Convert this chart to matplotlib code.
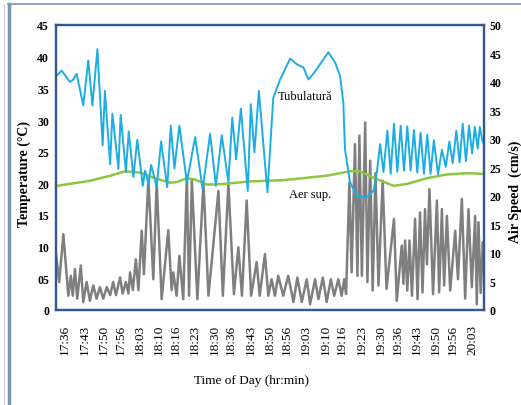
import matplotlib
matplotlib.use("Agg")
import matplotlib.pyplot as plt
from matplotlib.lines import Line2D

plt.rcParams['font.family'] = ['Liberation Serif', 'DejaVu Serif']

# etichete axa timpului (minute de la 17:36)
time_labels = ["17:36", "17:43", "17:50", "17:56", "18:03", "18:10", "18:16", "18:23",
               "18:30", "18:36", "18:43", "18:50", "18:56", "19:03", "19:10", "19:16",
               "19:23", "19:30", "19:36", "19:43", "19:50", "19:56", "20:03"]
time_ticks = [0, 7, 14, 20, 27, 34, 40, 47, 54, 60, 67, 74, 80, 87, 94, 100,
              107, 114, 120, 127, 134, 140, 147]

# Tubulatura - temperatura (C)
tub_t = [-3.0, -1.2, 1.8, 3.0, 4.2, 6.6, 8.4, 9.9, 11.7, 13.6, 14.4, 16.3, 17.1, 19.3,
         20.1, 22.0, 23.0, 24.7, 26.1, 28.1, 28.9, 30.1, 31.1, 33.1, 34.7, 36.9, 38.2,
         39.5, 41.3, 44.0, 47.0, 49.7, 52.4, 54.5, 56.6, 59.0, 60.4, 61.8, 63.5, 66.0,
         67.1, 68.4, 70.0, 73.1, 75.2, 77.7, 81.3, 83.7, 86.1, 87.9, 89.7, 92.1, 95.1,
         97.5, 99.3, 100.5, 101.1, 102.9, 105.4, 109.0, 111.4, 112.6, 113.8, 115.0,
         116.4, 117.6, 118.8, 120.0, 121.2, 122.4, 123.6, 124.8, 126.0, 127.2, 128.4,
         129.6, 130.8, 132.0, 133.2, 134.7, 136.1, 137.5, 138.8, 140.0, 141.3, 142.5,
         143.6, 144.8, 145.9, 147.0, 148.0, 149.0, 149.8, 150.8, 151.3]
tub_T = [37.0, 37.8, 36.0, 36.4, 37.3, 32.3, 39.4, 32.3, 41.2, 26.0, 34.6, 23.0, 31.0, 22.3,
         30.8, 21.8, 28.2, 21.0, 26.9, 19.6, 22.0, 19.9, 22.9, 19.4, 26.6, 19.4, 29.1,
         22.3, 29.1, 20.2, 27.3, 19.1, 27.8, 19.6, 27.6, 20.2, 30.4, 23.8, 31.8, 18.8,
         32.5, 24.9, 34.6, 18.6, 33.5, 36.4, 39.7, 38.8, 38.3, 36.4, 37.3, 38.8, 40.7,
         39.1, 37.0, 32.8, 25.4, 20.2, 18.0, 17.8, 18.8, 21.7, 26.2, 21.8,
         28.3, 21.5, 29.4, 21.8, 29.1, 22.0, 29.0, 22.0, 28.4, 21.7, 28.0,
         21.5, 27.7, 21.5, 26.8, 21.4, 25.3, 22.6, 26.6, 23.2, 28.3, 23.3,
         29.4, 23.5, 29.1, 24.7, 28.9, 25.5, 28.9, 26.5, 27.0]

# Aer suprafata - temperatura (C)
aer_t = [-3.0, 9.0, 16.3, 21.7, 27.1, 31.9, 37.9, 40.3, 44.0, 47.0, 51.2, 57.2, 66.8,
         78.8, 94.5, 102.9, 106.5, 111.4, 118.6, 123.4, 130.6, 137.9, 145.1, 151.3]
aer_T = [19.6, 20.4, 21.2, 21.9, 21.7, 20.9, 20.1, 20.2, 20.8, 20.6, 19.8, 19.9, 20.3,
         20.5, 21.2, 21.9, 21.9, 20.9, 19.6, 19.9, 20.8, 21.4, 21.6, 21.5]

# viteza aerului (cm/s)
vit_t = [-3.3, -2.1, -0.6, 1.2, 2.1, 2.8, 3.6, 4.4, 5.7, 6.6, 7.8, 9.0, 10.2, 11.4, 12.6,
         13.8, 15.1, 16.3, 17.4, 18.4, 19.9, 20.8, 22.0, 22.9, 23.5, 24.5, 25.6, 26.5,
         27.7, 28.5, 30.1, 31.9, 33.1, 34.9, 37.3, 38.5, 39.1, 40.3, 41.3, 42.7, 44.0,
         44.8, 45.8, 47.8, 50.0, 51.8, 55.4, 57.0, 59.0, 61.0, 62.6, 63.9, 65.6, 67.2,
         69.2, 70.3, 72.2, 73.4, 74.6, 75.8, 77.0, 78.8, 80.6, 82.5, 83.9, 85.5, 87.3,
         88.5, 90.3, 91.5, 93.1, 94.5, 96.0, 97.2, 98.7, 99.9, 100.8, 101.5,
         102.7, 103.5, 104.7, 105.6, 106.3, 107.2, 108.4, 109.2, 110.2, 111.1, 112.1,
         113.2, 114.7, 116.1, 118.8, 119.8, 121.6, 122.2, 122.8, 123.6, 124.4, 125.3,
         126.4, 127.3, 128.2, 129.1, 130.0, 130.7, 131.6, 132.9, 134.3, 135.1, 136.1,
         136.9, 137.9, 139.1, 140.9, 141.9, 143.3, 144.5, 145.7, 146.9, 148.1, 148.7,
         149.3, 150.1, 150.9, 151.3]
vit_A = [10.1, 4.9, 13.3, 2.5, 6.0, 2.5, 7.2, 2.0, 7.8, 1.4, 4.9, 1.6, 4.3, 2.0, 4.0,
         2.0, 4.0, 2.6, 4.9, 2.6, 5.7, 2.9, 4.9, 2.9, 6.6, 3.5, 8.9, 3.5,
         13.9, 6.3, 23.0, 5.4, 22.4, 1.9, 14.0, 3.5, 6.6, 2.5, 9.5, 1.9, 23.6,
         2.5, 22.7, 1.9, 22.4, 2.5, 20.9, 2.5, 22.1, 2.8, 11.0, 2.5, 19.2, 2.5,
         8.4, 2.5, 9.8, 2.5, 5.4, 2.5, 6.0, 2.5, 6.0, 1.4, 5.7, 1.4, 5.4,
         1.0, 5.4, 1.9, 5.7, 1.4, 5.4, 2.5, 5.4, 2.5, 5.4, 2.8,
         22.4, 6.6, 29.1, 6.0, 30.6, 6.0, 32.9, 4.9, 26.2, 3.4, 24.0,
         4.3, 22.7, 3.7, 16.0, 1.6, 11.3, 4.6, 12.2, 3.4, 12.2, 2.5,
         16.0, 1.9, 17.1, 3.1, 17.7, 8.0, 21.2, 2.8, 19.2, 3.1, 17.7,
         4.3, 16.5, 3.4, 13.9, 5.4, 19.5, 2.0, 17.7, 4.0, 16.5, 1.0,
         15.4, 3.0, 11.9, 8.0]

edge = '#35598F'

fig = plt.figure(figsize=(5.21, 4.06), dpi=100)
ax = fig.add_axes([56 / 521, 95 / 406, 428 / 521, 285 / 406])
ax2 = ax.twinx()

# ordinea: viteza in spate, temperaturile deasupra
ax.set_zorder(ax2.get_zorder() + 1)
ax.patch.set_visible(False)

ax2.plot(vit_t, vit_A, color='#7F7F7F', lw=1.8)
ax.plot(aer_t, aer_T, color='#8DC63F', lw=1.8)
ax.plot(tub_t, tub_T, color='#1CADE4', lw=1.4)

ax.set_xlim(-3.25, 151.3)
ax.set_ylim(0, 45)
ax2.set_ylim(0, 50)

ax.set_xticks(time_ticks)
ax.set_xticklabels(time_labels, rotation=90, fontsize=9.5)
ax.set_yticks(range(0, 46, 5))
ax.set_yticklabels(["0", "05"] + [str(v) for v in range(10, 46, 5)],
                   fontsize=8.5, fontweight='bold')
ax2.set_yticks(range(0, 51, 5))
ax2.set_yticklabels([str(v) for v in range(0, 51, 5)], fontsize=8.5, fontweight='bold')

ax.tick_params(axis='x', length=0, pad=10)
ax.tick_params(axis='y', length=0, pad=5)
ax2.tick_params(axis='y', length=0, pad=4)

for a in (ax, ax2):
    for s in a.spines.values():
        s.set_color(edge)
        s.set_linewidth(1.6)

ax.text(86.7, 33.8, "Tubulatură", fontsize=9, ha='center', va='center')
ax.text(88.5, 18.3, "Aer sup.", fontsize=9, ha='center', va='center')

fig.text(24 / 521, 1 - 174 / 406, "Temperature (°C)", rotation=90, fontsize=10,
         fontweight='bold', ha='center', va='center')
fig.text(515 / 521, 1 - 192 / 406, "Air Speed  (cm/s)", rotation=90, fontsize=10,
         fontweight='bold', ha='center', va='center')
fig.text(252 / 521, 1 - 381 / 406, "Time of Day (hr:min)", fontsize=9.5,
         ha='center', va='center')

# chenarul paginii
fig.add_artist(Line2D([8 / 521, 1], [1 - 5 / 406, 1 - 5 / 406], color='#7F95B8', lw=1.2))
fig.add_artist(Line2D([8.5 / 521, 8.5 / 521], [0, 1 - 5 / 406], color='#7F95B8', lw=2.5))
fig.add_artist(Line2D([3.5 / 521, 3.5 / 521], [0, 1 - 5 / 406], color='#C8CCD4', lw=0.8))

fig.savefig("out.png", dpi=100)
